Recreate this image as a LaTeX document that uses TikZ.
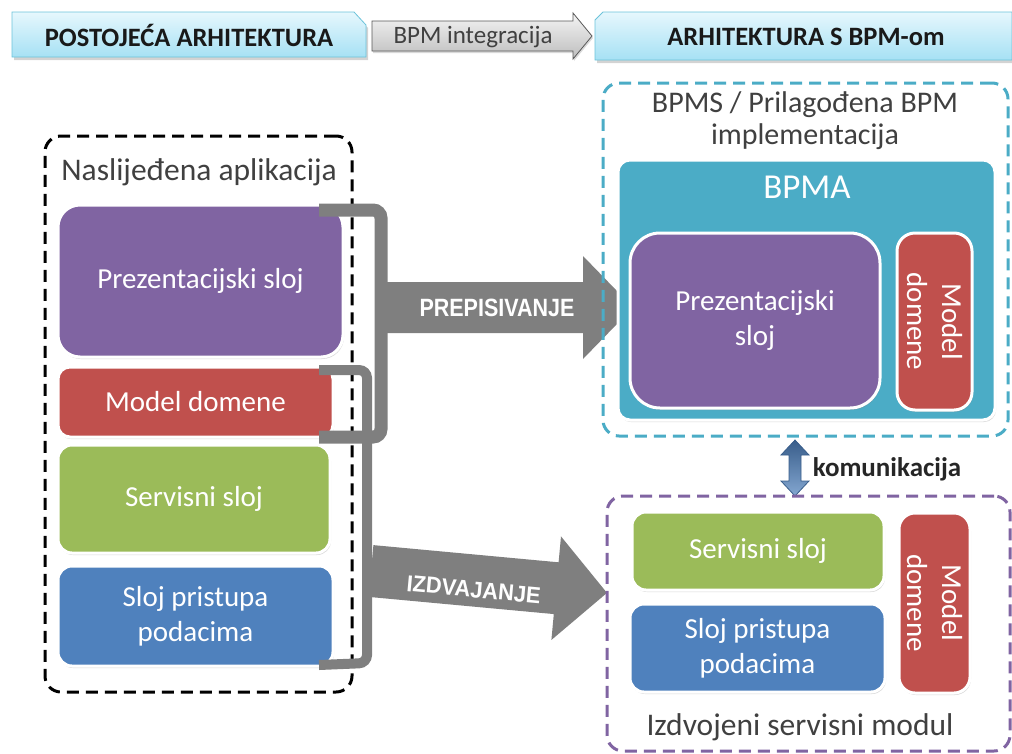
\documentclass[tikz,border=0pt]{standalone}
\usepackage{fontspec}
\setmainfont{Carlito}
\newfontfamily\arialf{Liberation Sans}
\usetikzlibrary{shadows}
\definecolor{cPurple}{HTML}{8064A2}
\definecolor{cRed}{HTML}{C0504D}
\definecolor{cGreen}{HTML}{9BBB59}
\definecolor{cBlue}{HTML}{4F81BD}
\definecolor{cTeal}{HTML}{4BACC6}
\definecolor{cGray}{HTML}{7F7F7F}
\definecolor{cText}{HTML}{404040}
\definecolor{tabTop}{HTML}{E6F7FD}
\definecolor{tabBot}{HTML}{A6E1F4}
\definecolor{tabLine}{HTML}{6CC3DA}
\definecolor{arrTop}{HTML}{F4F4F4}
\definecolor{arrBot}{HTML}{BDBDBD}
\definecolor{blueDark}{HTML}{385D8A}
\begin{document}
\begin{tikzpicture}[x=1pt,y=-1pt,
  layer/.style={draw=white, line width=3pt, rounded corners=14pt, text=white,
    font=\fontsize{29}{35}\selectfont, align=center, inner sep=0pt,
    drop shadow={opacity=0.3, shadow xshift=1pt, shadow yshift=-2pt}},
  container/.style={line width=3pt, rounded corners=16pt, dash pattern=on 12pt off 7pt, inner sep=0pt},
  title/.style={text=cText, font=\fontsize{31.5}{32}\selectfont, align=center, inner sep=0pt},
  tab/.style={draw=tabLine, line width=0.8pt, top color=tabTop, bottom color=tabBot,
    drop shadow={opacity=0.35, shadow xshift=2pt, shadow yshift=-3pt}},
  tabtext/.style={font=\bfseries\fontsize{26.5}{30}\selectfont, text=black!90, inner sep=0pt},
  bracket/.style={draw=cGray, line width=13pt, rounded corners=8pt},
  bigarrow/.style={fill=cGray},
  arrowtext/.style={text=white, font=\arialf\bfseries\fontsize{25}{30}\selectfont, inner sep=0pt}
]
\useasboundingbox (0,0) rectangle (1012,753);

% ---------- header ----------
\path[tab] (12,12) -- (354,12) -- (366,25) -- (366,57) -- (12,57) -- cycle;
\node[tabtext] (hleft) at (189,35) {POSTOJEĆA ARHITEKTURA};
\path[draw=black!65, line width=0.8pt, top color=arrTop, bottom color=arrBot,
  drop shadow={opacity=0.3, shadow xshift=1pt, shadow yshift=-2pt}]
  (372,21) -- (573,21) -- (573,13) -- (592,36) -- (573,59) -- (573,51) -- (372,51) -- cycle;
\node[text=cText, font=\fontsize{25}{28}\selectfont, inner sep=0pt] (hmid) at (473,37) {BPM integracija};
\path[tab] (595,20) -- (603,12) -- (1012,12) -- (1012,60) -- (595,60) -- cycle;
\node[tabtext] (hright) at (806,37) {ARHITEKTURA S BPM-om};

% ---------- left: legacy application ----------
\node[container, draw=black, minimum width=307, minimum height=556] (legacy) at (198.5,414) {};
\node[title] (legacyT) at (199,172) {Naslijeđena aplikacija};
\node[layer, fill=cPurple, minimum width=285, minimum height=152, rounded corners=22pt] (lp) at (200.5,281) {Prezentacijski sloj};
\node[layer, fill=cRed, minimum width=275, minimum height=70, rounded corners=12pt] (lr) at (195.5,402) {Model domene};
\node[layer, fill=cGreen, minimum width=272, minimum height=108] (lg) at (194,499) {Servisni sloj};
\node[layer, fill=cBlue, minimum width=275, minimum height=100] (lb) at (195.5,616) {Sloj pristupa\\podacima};

% ---------- brackets ----------
\coordinate (b1a) at (319,210);
\coordinate (b1b) at (319,437);
\coordinate (b2a) at (319,370);
\coordinate (b2b) at (319,665);
\draw[bracket] (b1a) -- (381,210) -- (381,437) -- (b1b);
\draw[bracket, line width=10pt] (b2a) -- (367,370) -- (367,663) -- (b2b);

% ---------- big arrows ----------
\path[bigarrow] (386,282) -- (583,282) -- (583,256) -- (633,307.5) -- (583,359) -- (583,333) -- (386,333) -- cycle;
\node[arrowtext] (prep) at (497,308) {\scalebox{0.86}[1]{PREPISIVANJE}};
\begin{scope}[shift={(371,571)}, rotate=-5.3]
  \path[bigarrow] (0,-26) -- (186,-26) -- (186,-52) -- (237,0) -- (186,52) -- (186,26) -- (0,26) -- cycle;
  \node[arrowtext, font=\arialf\bfseries\fontsize{23}{28}\selectfont, rotate=-5.3] (izdv) at (104,9) {\scalebox{0.95}[1]{IZDVAJANJE}};
\end{scope}

% ---------- right top: BPMS ----------
\node[container, draw=cTeal, minimum width=405, minimum height=353] (bpms) at (805.5,259.5) {};
\node[title, font=\fontsize{30}{32}\selectfont] (bpmsT) at (805,121) {BPMS / Prilagođena BPM\\implementacija};
\node[layer, fill=cTeal, minimum width=377, minimum height=260, rounded corners=12pt] (bpma) at (806.5,290) {};
\node[text=white, font=\fontsize{35}{40}\selectfont, inner sep=0pt] (bpmaT) at (807,187) {BPMA};
\node[layer, fill=cPurple, minimum width=250, minimum height=175, rounded corners=30pt] (rp) at (755,320.5) {Prezentacijski\\sloj};
\node[layer, fill=cRed, minimum width=177, minimum height=75, rounded corners=18pt, rotate=-90] (rr) at (934.5,321.5) {Model\\domene};

% ---------- communication arrow ----------
\path[draw=blueDark, line width=0.8pt, left color=blueDark, right color=cBlue!70, shading angle=0]
  (795,440) -- (809,455) -- (801,455) -- (801,481) -- (809,481) -- (795,496) -- (781,481) -- (789,481) -- (789,455) -- (781,455) -- cycle;
\node[text=black!85, font=\bfseries\fontsize{27}{30}\selectfont, inner sep=0pt] (komT) at (887,469) {komunikacija};

% ---------- right bottom: extracted module ----------
\node[container, draw=cPurple, minimum width=403, minimum height=255] (modul) at (808.5,623.5) {};
\node[layer, fill=cGreen, minimum width=252, minimum height=78] (sg) at (758,551) {Servisni sloj};
\node[layer, fill=cBlue, minimum width=255, minimum height=88] (sb) at (757.5,648) {Sloj pristupa\\podacima};
\node[layer, fill=cRed, minimum width=180, minimum height=71, rounded corners=16pt, rotate=-90] (sr) at (934.5,603) {Model\\domene};
\node[title] (modulT) at (800,727) {Izdvojeni servisni modul};
\end{tikzpicture}
\end{document}
